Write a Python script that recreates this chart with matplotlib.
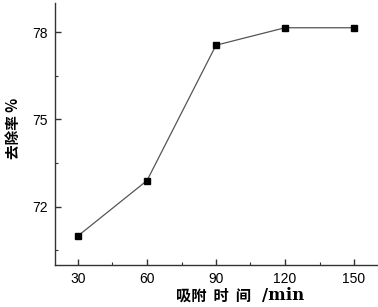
import matplotlib
matplotlib.use("Agg")
import matplotlib.pyplot as plt
from matplotlib.ticker import MultipleLocator

# adsorption time (min) vs removal rate (%)
times = [30, 60, 90, 120, 150]
removal = [71.0, 72.9, 77.55, 78.15, 78.15]
xticks = [30, 60, 90, 120, 150]
yticks = [72, 75, 78]

fig = plt.figure(figsize=(3.78, 3.07), dpi=100)
ax = fig.add_axes([55 / 378, 1 - 265 / 307, 322 / 378, 262 / 307])

ax.plot(times, removal, color='#555555', linewidth=0.9,
        marker='s', markersize=4.2, markerfacecolor='black',
        markeredgecolor='black')

ax.set_xlim(20, 160)
ax.set_ylim(70, 79)
ax.set_xticks(xticks)
ax.set_yticks(yticks)
ax.xaxis.set_minor_locator(MultipleLocator(15))
ax.yaxis.set_minor_locator(MultipleLocator(1.5))

for s in ['top', 'right']:
    ax.spines[s].set_visible(False)
for s in ['left', 'bottom']:
    ax.spines[s].set_linewidth(1.0)
    ax.spines[s].set_color('#333333')

ax.tick_params(which='major', direction='in', length=4, width=1.0,
               color='#333333', labelsize=10, pad=5)
ax.tick_params(which='minor', direction='in', length=2, width=0.8,
               color='#333333')
for lab in ax.get_xticklabels() + ax.get_yticklabels():
    lab.set_family('Liberation Sans')

# x label: Chinese part and unit part
fig.text(176 / 378, 1 - 296 / 307, '吸附  时  间',
         family=['Noto Sans CJK SC', 'DejaVu Sans'], weight='bold',
         fontsize=11, ha='left', va='center')
fig.text(262 / 378, 1 - 296 / 307, '/min',
         family='DejaVu Serif', weight='bold',
         fontsize=12, ha='left', va='center')
fig.text(13 / 378, 1 - 128 / 307, '去除率 %', rotation=90,
         family=['Noto Sans CJK SC', 'DejaVu Sans'], weight='bold',
         fontsize=10.5, ha='center', va='center')

fig.savefig('out.png', dpi=100)
